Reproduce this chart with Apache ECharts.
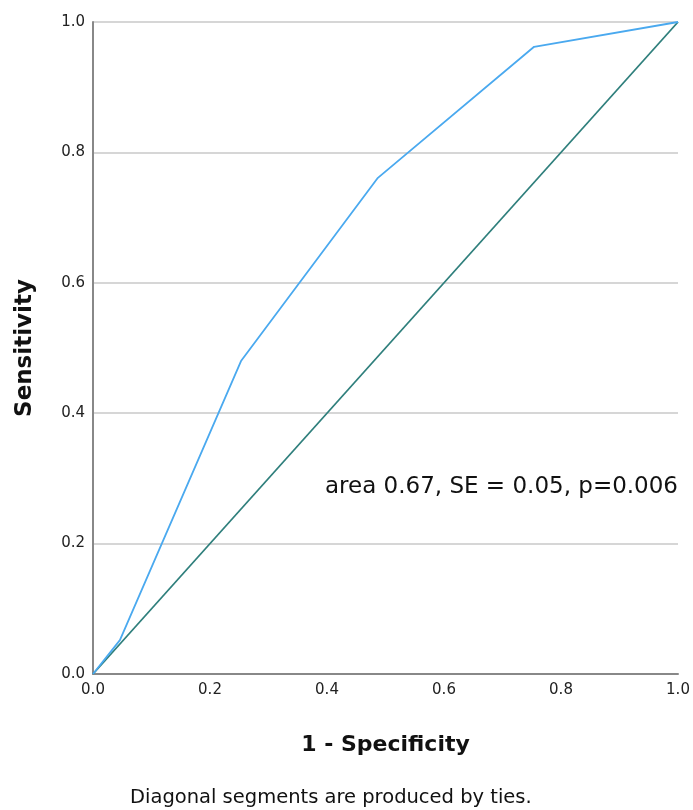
<!DOCTYPE html>
<html><head><meta charset="utf-8">
<script src="https://cdn.jsdelivr.net/npm/echarts@6/dist/echarts.min.js"></script>
<style>html,body{margin:0;padding:0;background:#fff}#c{width:693px;height:810px}</style>
</head><body><div id="c"></div>
<script>
const rocX = [0.0, 0.046, 0.253, 0.487, 0.754, 1.0];
const rocY = [0.0, 0.052, 0.48, 0.761, 0.962, 1.0];
const refX = [0.0, 1.0];
const refY = [0.0, 1.0];
const xTicks = [0.0, 0.2, 0.4, 0.6, 0.8, 1.0];
const yTicks = [0.0, 0.2, 0.4, 0.6, 0.8, 1.0];
const annotation = "area 0.67, SE = 0.05, p=0.006";
const footnote = "Diagonal segments are produced by ties.";

const chart = echarts.init(document.getElementById('c'));
const font = '"DejaVu Sans", sans-serif';
chart.setOption({
  animation: false,
  grid: {left: 93, right: 15, top: 22, bottom: 136},
  xAxis: {
    type: 'value', min: 0, max: 1, interval: 0.2,
    name: '1 - Specificity', nameLocation: 'middle', nameGap: 60,
    nameTextStyle: {fontFamily: font, fontWeight: 'bold', fontSize: 22, color: '#111'},
    axisLine: {show: true, lineStyle: {color: '#888', width: 2}},
    axisTick: {show: false},
    splitLine: {show: false},
    axisLabel: {fontFamily: font, fontSize: 15, color: '#222', margin: 9,
      formatter: v => v.toFixed(1)}
  },
  yAxis: {
    type: 'value', min: 0, max: 1, interval: 0.2,
    name: 'Sensitivity', nameLocation: 'middle', nameGap: 56,
    nameTextStyle: {fontFamily: font, fontWeight: 'bold', fontSize: 23, color: '#111'},
    axisLine: {show: true, lineStyle: {color: '#888', width: 2}},
    axisTick: {show: false},
    splitLine: {show: true, lineStyle: {color: '#c8c8c8', width: 1.5}},
    axisLabel: {fontFamily: font, fontSize: 15, color: '#222', margin: 8,
      formatter: v => v.toFixed(1)}
  },
  series: [
    {type: 'line', data: refX.map((x, i) => [x, refY[i]]), symbol: 'none',
     lineStyle: {color: '#2f7f7c', width: 1.8}, z: 2},
    {type: 'line', data: rocX.map((x, i) => [x, rocY[i]]), symbol: 'none',
     lineStyle: {color: '#4aa9ef', width: 1.8}, z: 3}
  ],
  graphic: [
    {type: 'text', right: 15, top: 476, style: {text: annotation, fontFamily: font, fontSize: 23, fill: '#111'}},
    {type: 'text', left: 130, top: 788, style: {text: footnote, fontFamily: font, fontSize: 19.5, fill: '#111'}}
  ]
});
</script></body></html>
